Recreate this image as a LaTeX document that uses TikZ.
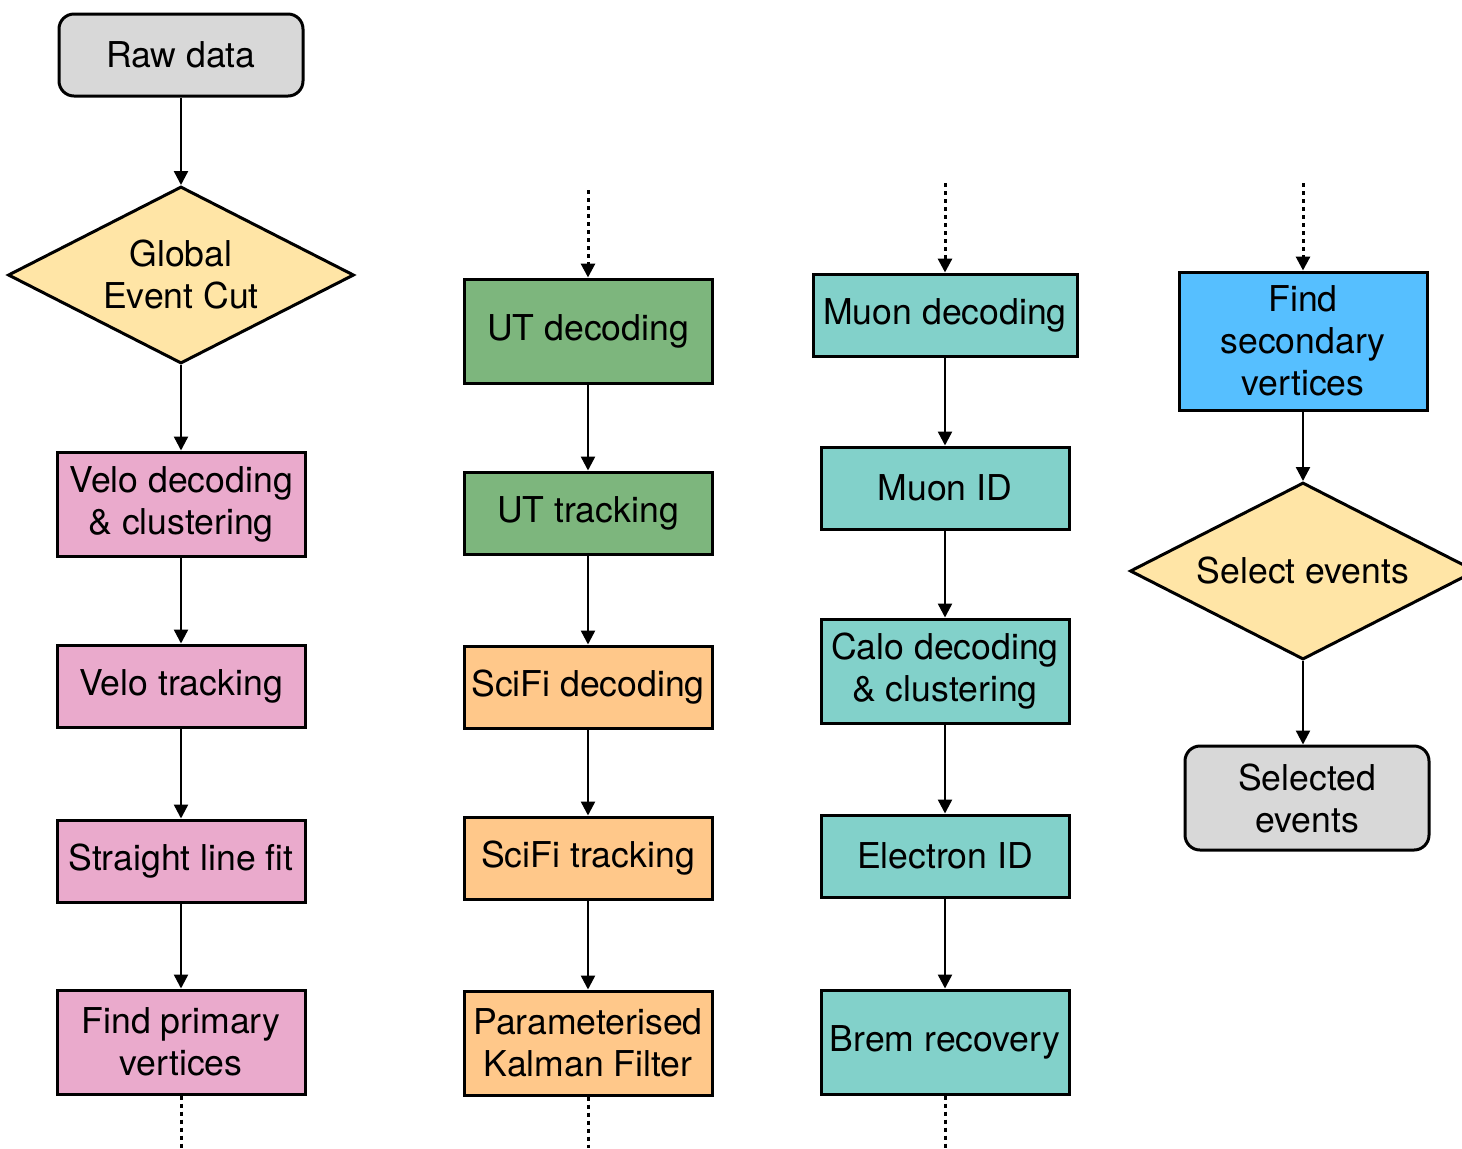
\documentclass[tikz,border=0pt]{standalone}
\usepackage{fontspec}
\setmainfont{TeX Gyre Heros}
\usetikzlibrary{shapes.geometric,arrows.meta}

\definecolor{rawgray}{RGB}{216,216,216}
\definecolor{cutyellow}{RGB}{255,229,166}
\definecolor{velopink}{RGB}{234,170,204}
\definecolor{utgreen}{RGB}{125,182,125}
\definecolor{scifiorange}{RGB}{255,200,138}
\definecolor{muonteal}{RGB}{130,209,202}
\definecolor{svblue}{RGB}{86,191,255}

\begin{document}
\begin{tikzpicture}[x=0.5pt,y=-0.5pt,
            base/.style={draw=black, line width=1.5pt, align=center, inner sep=2pt,
                         font=\fontsize{17.8pt}{21pt}\selectfont},
            stage/.style={base, rectangle, minimum width=124pt, minimum height=41pt},
            tall stage/.style={stage, minimum height=52pt},
            terminal/.style={base, rectangle, rounded corners=7.5pt, fill=rawgray, minimum width=122pt},
            decision/.style={base, diamond, aspect=1.95, fill=cutyellow, inner sep=0pt,
                             minimum width=173pt, minimum height=88.5pt},
            flow/.style={line width=1.2pt, -{Triangle[length=7pt,width=7pt]}},
            feed/.style={line width=1.5pt, dash pattern=on 2pt off 2pt},
            ]
            \useasboundingbox (0,0) rectangle (1462,1148);

            \def\cA{181}
            \def\cB{588}
            \def\cC{945}
            \def\cD{1303}

            % Velo column
            \node[terminal, minimum height=41pt] (raw) at (\cA,55) {Raw data};
            \node[decision] (gec) at (\cA,275) {Global\\Event Cut};
            \node[tall stage, fill=velopink] (velodec) at (\cA,504) {Velo decoding\\\& clustering};
            \node[stage, fill=velopink] (velotrk) at (\cA,686) {Velo tracking};
            \node[stage, fill=velopink] (slfit) at (\cA,861) {Straight line fit};
            \node[tall stage, fill=velopink] (pv) at (\cA,1042) {Find primary\\vertices};
            \coordinate (pv out) at (\cA,1148);

            % UT and SciFi column
            \coordinate (ut in) at (\cB,190);
            \node[tall stage, fill=utgreen] (utdec) at (\cB,331) {UT decoding};
            \node[stage, fill=utgreen] (uttrk) at (\cB,513) {UT tracking};
            \node[stage, fill=scifiorange] (scifidec) at (\cB,687) {SciFi decoding};
            \node[stage, fill=scifiorange] (scifitrk) at (\cB,858) {SciFi tracking};
            \node[tall stage, fill=scifiorange] (kalman) at (\cB,1043) {Parameterised\\Kalman Filter};
            \coordinate (kalman out) at (\cB,1148);

            % Muon and Calo column
            \coordinate (muon in) at (\cC,183);
            \node[stage, fill=muonteal, minimum width=132pt] (muondec) at (\cC,315) {Muon decoding};
            \node[stage, fill=muonteal] (muonid) at (\cC,488) {Muon ID};
            \node[tall stage, fill=muonteal] (calodec) at (\cC,671) {Calo decoding\\\& clustering};
            \node[stage, fill=muonteal] (eid) at (\cC,856) {Electron ID};
            \node[tall stage, fill=muonteal] (brem) at (\cC,1042) {Brem recovery};
            \coordinate (brem out) at (\cC,1148);

            % Selection column
            \coordinate (sv in) at (\cD,183);
            \node[stage, fill=svblue, minimum height=69pt] (sv) at (\cD,341) {Find\\secondary\\vertices};
            \node[decision] (sel) at (\cD,571) {Select events};
            \node[terminal, minimum height=52pt] (selected) at (1307,798) {Selected\\events};

            \draw[flow] (raw) -- (gec);
            \draw[flow] (gec) -- (velodec);
            \draw[flow] (velodec) -- (velotrk);
            \draw[flow] (velotrk) -- (slfit);
            \draw[flow] (slfit) -- (pv);
            \draw[feed] (pv) -- (pv out);

            \draw[feed, -{Triangle[length=7pt,width=7pt]}] (ut in) -- (utdec);
            \draw[flow] (utdec) -- (uttrk);
            \draw[flow] (uttrk) -- (scifidec);
            \draw[flow] (scifidec) -- (scifitrk);
            \draw[flow] (scifitrk) -- (kalman);
            \draw[feed] (kalman) -- (kalman out);

            \draw[feed, -{Triangle[length=7pt,width=7pt]}] (muon in) -- (muondec);
            \draw[flow] (muondec) -- (muonid);
            \draw[flow] (muonid) -- (calodec);
            \draw[flow] (calodec) -- (eid);
            \draw[flow] (eid) -- (brem);
            \draw[feed] (brem) -- (brem out);

            \draw[feed, -{Triangle[length=7pt,width=7pt]}] (sv in) -- (sv);
            \draw[flow] (sv) -- (sel);
            \draw[flow] (sel) -- (selected.north -| sel.south);
        \end{tikzpicture}
\end{document}
